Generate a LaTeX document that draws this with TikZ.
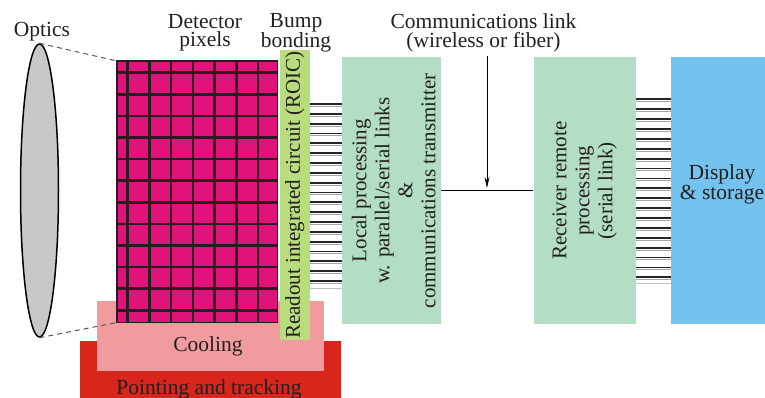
\documentclass[tikz,border=0pt]{standalone}
\usepackage{fontspec}
\setmainfont{Liberation Serif}
\usetikzlibrary{arrows.meta,shapes.geometric}
\definecolor{magen}{HTML}{E0137B}
\definecolor{gridc}{HTML}{2B1A1F}
\definecolor{roicg}{HTML}{B8DC7E}
\definecolor{mint}{HTML}{B3DEC5}
\definecolor{dispb}{HTML}{74C2EE}
\definecolor{coolp}{HTML}{F09C9E}
\definecolor{pointr}{HTML}{D9261C}
\definecolor{lensg}{HTML}{C8C8C8}
\definecolor{txt}{HTML}{231F20}
\tikzset{
  lbl/.style={inner sep=0pt, text=txt, align=center, font=\fontsize{21.5}{18.5}\selectfont},
  rlbl/.style={inner sep=0pt, text=txt, align=center, rotate=90, font=\fontsize{21}{23}\selectfont},
  blk/.style={draw=none, inner sep=0pt, rectangle},
  bumpline/.style={line width=1.8pt, draw=black!85},
  bumpshade/.style={line width=0.8pt, draw=black!35},
  gridline/.style={line width=2.6pt, draw=gridc},
  dashc/.style={draw=black!65, line width=1pt, dash pattern=on 5pt off 4pt},
}
\begin{document}
\begin{tikzpicture}[x=1pt,y=-1pt]
\useasboundingbox (0,0) rectangle (765,398);
% base blocks
\node[blk, fill=pointr, minimum width=261pt, minimum height=60pt, anchor=north west] (point) at (80,341) {};
\node[blk, fill=coolp, minimum width=227pt, minimum height=70pt, anchor=north west] (cool) at (97,301) {};
\node[lbl, anchor=base] (cooltxt) at (208,351.5) {Cooling};
\node[lbl, anchor=base] (pointtxt) at (209,394) {Pointing and tracking};
% detector pixels
\node[blk, fill=magen, draw=black!40, line width=0.5pt, minimum width=160pt, minimum height=261pt, anchor=north west] (pixels) at (117,61) {};
\begin{scope}
\clip (pixels.south west) rectangle (pixels.north east);
\foreach \i in {0,...,6} {
  \draw[gridline] ({127.7+21.7*\i},61) -- ({127.7+21.7*\i},322);
}
\foreach \j in {0,...,11} {
  \draw[gridline] (117,{72.7+21.6*\j}) -- (277,{72.7+21.6*\j});
}
\end{scope}
\draw[gridc, line width=1.6pt] (pixels.south west) rectangle (pixels.north east);
% ROIC
\node[blk, fill=roicg, minimum width=29.5pt, minimum height=290pt, anchor=north west] (roic) at (280,50) {};
\node[rlbl] (roictxt) at (roic.center) {Readout integrated circuit (ROIC)};
% bump lines
\foreach \k in {0,...,18} {
  \draw[bumpshade] (310,{104+9.83*\k+2.3}) -- (342,{104+9.83*\k+2.3});
  \draw[bumpline] (310,{104+9.83*\k}) -- (342,{104+9.83*\k});
}
\draw[black!25, line width=0.8pt] (310,288) -- (342,288);
% local processing
\node[blk, fill=mint, minimum width=99pt, minimum height=266.5pt, anchor=north west] (local) at (342,57.3) {};
\node[rlbl] (localtxt) at ([xshift=2pt]local.center) {Local processing\\w. parallel/serial links\\\&\\communications transmitter};
% receiver
\node[blk, fill=mint, minimum width=102.5pt, minimum height=266.5pt, anchor=north west] (recv) at (533.3,57.3) {};
\node[rlbl] (recvtxt) at (recv.center) {Receiver remote\\processing\\(serial link)};
\foreach \k in {0,...,18} {
  \draw[bumpshade] (636,{99.3+9.89*\k+2.3}) -- (671,{99.3+9.89*\k+2.3});
  \draw[bumpline] (636,{99.3+9.89*\k}) -- (671,{99.3+9.89*\k});
}
\draw[black!25, line width=0.8pt] (636,283.5) -- (671,283.5);
% display
\node[blk, fill=dispb, minimum width=100pt, minimum height=266.5pt, anchor=north west] (disp) at (671,57.3) {};
\node[lbl] (disptxt) at (722,184.5) {Display\\\& storage};
% link
\draw[black, line width=1pt] (local) -- (recv);
\coordinate (arrtop) at (487,56);
\coordinate (arrtip) at (487,188);
\draw[black, line width=1pt, -{Stealth[length=11pt,width=5pt]}] (arrtop) -- (arrtip);
% optics
\node[ellipse, draw=black, line width=1.5pt, fill=lensg, inner sep=0pt, minimum width=38pt, minimum height=293pt] (optics) at (39.5,190.5) {};
\draw[dashc] (optics.north) -- (pixels.north west);
\draw[dashc] (optics.south) -- (pixels.south west);
% labels
\node[lbl, anchor=base] (opticstxt) at (42,36.7) {Optics};
\node[lbl] (dettxt) at (205,32.7) {Detector\\pixels};
\node[lbl] (bumptxt) at (296,32.7) {Bump\\bonding};
\node[lbl] (commtxt) at (483.5,33) {Communications link\\(wireless or fiber)};
\end{tikzpicture}
\end{document}
